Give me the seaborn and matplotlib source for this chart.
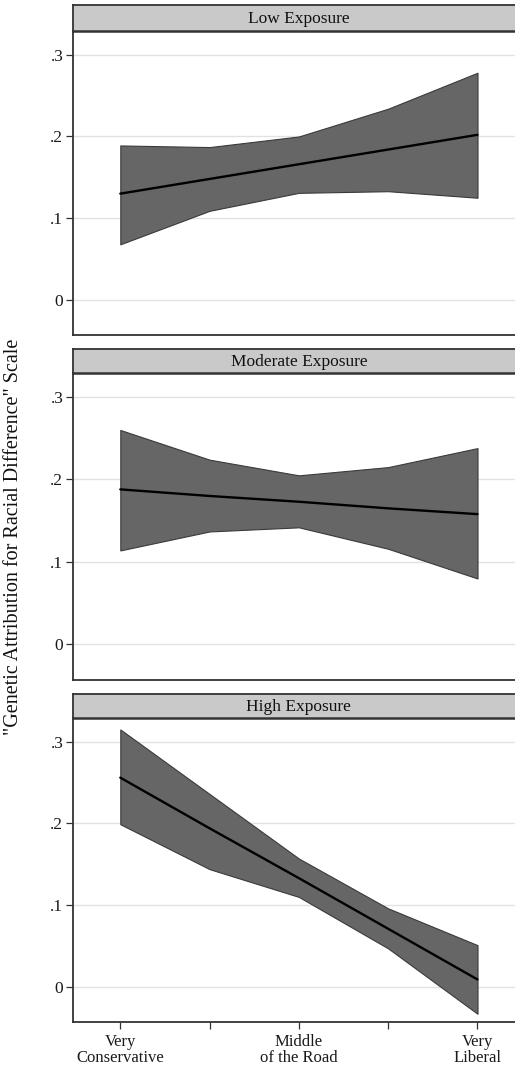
import pandas as pd
import seaborn as sns
import matplotlib.pyplot as plt

# Values
ideology = [1, 2, 3, 4, 5]
ideology_labels = ["Very\nConservative", "", "Middle\nof the Road", "", "Very\nLiberal"]
panels = ["Low Exposure", "Moderate Exposure", "High Exposure"]

low_mean = [0.130, 0.148, 0.166, 0.184, 0.202]
low_upper = [0.189, 0.187, 0.200, 0.234, 0.278]
low_lower = [0.068, 0.109, 0.131, 0.133, 0.125]

mod_mean = [0.188, 0.180, 0.173, 0.165, 0.158]
mod_upper = [0.260, 0.224, 0.205, 0.215, 0.238]
mod_lower = [0.114, 0.137, 0.142, 0.116, 0.080]

high_mean = [0.256, 0.194, 0.133, 0.071, 0.009]
high_upper = [0.315, 0.236, 0.157, 0.096, 0.051]
high_lower = [0.199, 0.144, 0.110, 0.047, -0.033]

y_ticks = [0, 0.1, 0.2, 0.3]
y_ticklabels = ["0", ".1", ".2", ".3"]

rows = []
for name, m, u, l in zip(panels,
                         [low_mean, mod_mean, high_mean],
                         [low_upper, mod_upper, high_upper],
                         [low_lower, mod_lower, high_lower]):
    for x, mv, uv, lv in zip(ideology, m, u, l):
        rows.append({"panel": name, "ideology": x, "mean": mv, "upper": uv, "lower": lv})
df = pd.DataFrame(rows)

sns.set_style("white")
plt.rcParams['font.family'] = ['Liberation Serif', 'DejaVu Serif']

fig = plt.figure(figsize=(5.15, 10.71), dpi=100)

XMIN, XMAX = 0.47, 5.42

# (plot bottom, plot height, strip bottom, strip height) in figure fractions
layout = [
    (0.6872, 0.2838, 0.9711, 0.0243),
    (0.3651, 0.2866, 0.6517, 0.0224),
    (0.0458, 0.2838, 0.3296, 0.0224),
]
left, width = 0.1417, 0.8583

for i, (name, (pb, ph, sb, sh)) in enumerate(zip(panels, layout)):
    ax = fig.add_axes([left, pb, width, ph])
    sub = df[df["panel"] == name]
    ax.fill_between(sub["ideology"], sub["lower"], sub["upper"],
                    facecolor="#666666", edgecolor="#3a3a3a", linewidth=0.8, zorder=2)
    sns.lineplot(data=sub, x="ideology", y="mean", color="black", linewidth=1.7, ax=ax, zorder=3)

    ax.set_xlim(XMIN, XMAX)
    ax.set_ylim(-0.043, 0.329)
    ax.set_yticks(y_ticks)
    ax.set_yticklabels(y_ticklabels, fontsize=12.5)
    for t in y_ticks:
        ax.axhline(t, color="#e2e2e2", linewidth=1.0, zorder=1)
    ax.set_xlabel("")
    ax.set_ylabel("")
    ax.spines["right"].set_visible(False)
    ax.spines["top"].set_visible(False)
    for s in ["left", "bottom"]:
        ax.spines[s].set_color("#333333")
        ax.spines[s].set_linewidth(1.3)
    ax.tick_params(axis="y", which="both", left=True, length=5, width=0.9,
                   color="#333333", pad=2, labelcolor="#1a1a1a")
    if i == 2:
        ax.set_xticks(ideology)
        ax.set_xticklabels(ideology_labels, fontsize=12, linespacing=0.95)
        ax.tick_params(axis="x", bottom=True, length=5, width=0.9,
                       color="#333333", pad=4, labelcolor="#1a1a1a")
    else:
        ax.set_xticks([])

    sax = fig.add_axes([left, sb, width, sh])
    sax.set_facecolor("#c9c9c9")
    sax.set_xticks([])
    sax.set_yticks([])
    sax.spines["right"].set_visible(False)
    for s in ["left", "top", "bottom"]:
        sax.spines[s].set_color("#333333")
        sax.spines[s].set_linewidth(1.3)
    sax.spines["bottom"].set_linewidth(1.8)
    sax.text((3 - XMIN) / (XMAX - XMIN), 0.45, name,
             transform=sax.transAxes, ha="center", va="center", fontsize=12.5, color="#111111")

fig.text(0.027, 0.499, "\"Genetic Attribution for Racial Difference\" Scale",
         rotation=90, ha="center", va="center", fontsize=14.5, color="#111111")

fig.savefig("out.png", dpi=100)
